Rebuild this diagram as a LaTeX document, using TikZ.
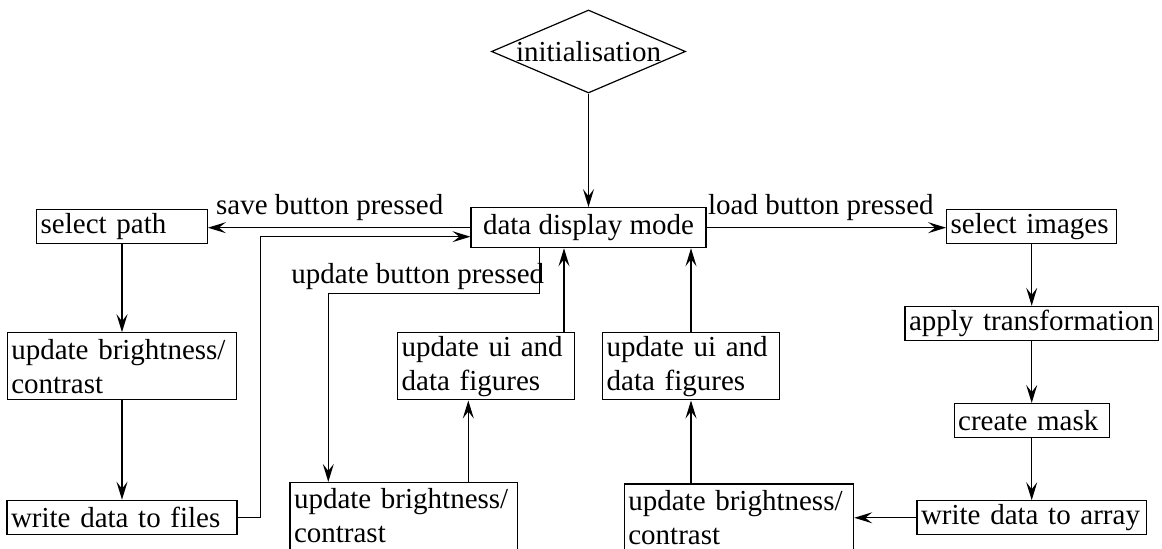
\documentclass[tikz,border=0pt]{standalone}
\usepackage{fontspec}
\setmainfont{Liberation Serif}
\usetikzlibrary{arrows.meta,shapes.geometric}

\begin{document}
\begin{tikzpicture}[
    font=\fontsize{14.5}{17}\selectfont,
    line width=0.6pt,
    node distance=48.6pt,
    >={Stealth[length=9pt, width=5.5pt, inset=3.5pt]},
    box/.style={draw, align=left, inner xsep=2pt, inner ysep=0.5pt,
                text width=#1-4pt, minimum height=17pt},
    tallbox/.style={box=#1, minimum height=33.5pt},
    lbl/.style={above, inner xsep=0pt}
  ]
    \useasboundingbox (0,0) rectangle (581pt,-274.5pt);

    \node[draw, inner xsep=0pt, inner ysep=0.5pt, minimum width=117.5pt, minimum height=20pt] (dd) at (294.25pt,-113.85pt) {data display mode};
    \node[draw, diamond, aspect=2.34, inner sep=-3pt, minimum width=97pt, minimum height=41.5pt, above of=dd, yshift=39.5pt] (init) {initialisation};

    \node[box=85.3pt, left of=dd, xshift=-184.65pt, yshift=0.75pt] (selpath) {select path};
    \node[tallbox=114.7pt, below of=selpath, yshift=-21.45pt] (bright1) {update brightness/\\contrast};
    \node[box=115pt, below of=bright1, yshift=-26.9pt] (wfiles) {write data to files};

    \node[tallbox=88.35pt, below of=dd, xshift=-51.25pt, yshift=-20.75pt] (ui1) {update ui and\\data figures};
    \node[tallbox=88.35pt, below of=dd, xshift=51.25pt, yshift=-20.75pt] (ui2) {update ui and\\data figures};
    \node[tallbox=113.8pt, below of=ui1, xshift=-41.1pt, yshift=-26.2pt] (bright2) {update brightness/\\contrast};
    \node[tallbox=114.65pt, below of=ui2, xshift=24pt, yshift=-27pt] (bright3) {update brightness/\\contrast};

    \node[box=85pt, right of=dd, xshift=173pt, yshift=0.75pt] (selimg) {select images};
    \node[box=126.7pt, below of=selimg] (apply) {apply transformation};
    \node[box=77.5pt, below of=apply] (mask) {create mask};
    \node[box=114.7pt, below of=mask] (warray) {write data to array};

    \draw[->] (init) -- (dd);
    \draw[->] (dd.west) -- node[lbl, pos=0.536] (savelbl) {save button pressed} (dd.west -| selpath.east);
    \draw[->] (dd.east) -- node[lbl, pos=0.477] (loadlbl) {load button pressed} (dd.east -| selimg.west);
    \draw[->] ([xshift=-24.6pt]dd.south) -- ++(0,-22.8pt) -| node[lbl, pos=0.288, inner ysep=2pt] (updlbl) {update button pressed} ([xshift=-37.75pt]bright2.north);

    \draw[->] (selpath) -- (bright1);
    \draw[->] (bright1) -- (wfiles);
    \draw[->] (wfiles.east) -- ++(11.6pt,0) |- ([yshift=-4.5pt]dd.west);

    \draw[->] ([xshift=32.25pt]bright2.north) -- ([xshift=-8.85pt]ui1.south);
    \draw[->] ([xshift=39pt]ui1.north) -- ([xshift=-12.25pt]dd.south);
    \draw[->] (bright3.north -| ui2.south) -- (ui2.south);
    \draw[->] (ui2.north) -- (ui2.north |- dd.south);

    \draw[->] (selimg) -- (apply);
    \draw[->] (apply) -- (mask);
    \draw[->] (mask) -- (warray);
    \draw[->] (warray.west) -- (warray.west -| bright3.east);
\end{tikzpicture}
\end{document}
